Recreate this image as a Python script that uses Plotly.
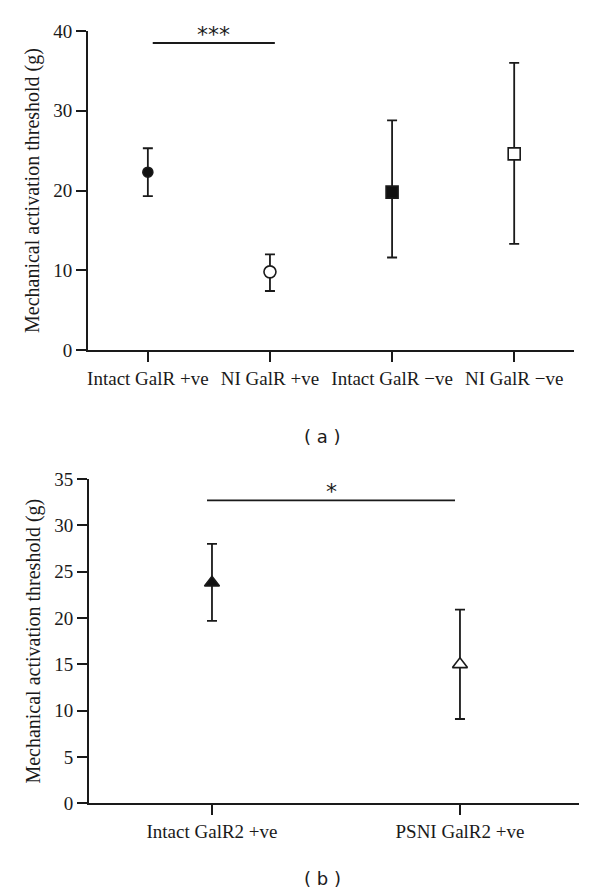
import plotly.graph_objects as go

# Panel (a)
cats_a = ["Intact GalR +ve", "NI GalR +ve", "Intact GalR \u2212ve", "NI GalR \u2212ve"]
mean_a = [22.3, 9.8, 19.8, 24.6]
err_up_a = [3.0, 2.2, 9.0, 11.4]
err_dn_a = [3.0, 2.4, 8.2, 11.3]
symbols_a = ["circle", "circle", "square", "square"]
fills_a = ["#111111", "white", "#111111", "white"]
sizes_a = [10, 12, 12, 12]
yticks_a = [0, 10, 20, 30, 40]
sig_a_x = [0.04, 1.04]
sig_a_y = 38.5
sig_a_text = "***"

# Panel (b)
cats_b = ["Intact GalR2 +ve", "PSNI GalR2 +ve"]
mean_b = [23.8, 15.0]
err_up_b = [4.2, 5.9]
err_dn_b = [4.1, 5.9]
symbols_b = ["triangle-up", "triangle-up"]
fills_b = ["#111111", "white"]
yticks_b = [0, 5, 10, 15, 20, 25, 30, 35]
sig_b_x = [-0.02, 0.98]
sig_b_y = 32.7
sig_b_text = "*"

INK = "#1a1a1a"
SERIF = "Liberation Serif"
SANS = "DejaVu Sans"

fig = go.Figure()

for i in range(len(cats_a)):
    fig.add_trace(go.Scatter(
        x=[i], y=[mean_a[i]], mode="markers", xaxis="x", yaxis="y",
        marker=dict(symbol=symbols_a[i], size=sizes_a[i], color=fills_a[i],
                    line=dict(color=INK, width=1.6)),
        error_y=dict(type="data", symmetric=False, array=[err_up_a[i]],
                     arrayminus=[err_dn_a[i]], color=INK, thickness=1.8, width=5),
        showlegend=False))

for i in range(len(cats_b)):
    fig.add_trace(go.Scatter(
        x=[i], y=[mean_b[i]], mode="markers", xaxis="x2", yaxis="y2",
        marker=dict(symbol=symbols_b[i], size=13, color=fills_b[i],
                    line=dict(color=INK, width=1.6)),
        error_y=dict(type="data", symmetric=False, array=[err_up_b[i]],
                     arrayminus=[err_dn_b[i]], color=INK, thickness=1.8, width=5),
        showlegend=False))

# significance bars
fig.add_trace(go.Scatter(x=sig_a_x, y=[sig_a_y, sig_a_y], mode="lines",
                         xaxis="x", yaxis="y", line=dict(color=INK, width=1.8),
                         showlegend=False, hoverinfo="skip"))
fig.add_trace(go.Scatter(x=sig_b_x, y=[sig_b_y, sig_b_y], mode="lines",
                         xaxis="x2", yaxis="y2", line=dict(color=INK, width=1.8),
                         showlegend=False, hoverinfo="skip"))

axis_common = dict(showline=True, linecolor=INK, linewidth=1.8, ticks="outside",
                   tickcolor=INK, tickwidth=1.8, ticklen=10, showgrid=False,
                   zeroline=False, automargin=False,
                   tickfont=dict(family=SERIF, size=19, color=INK))

fig.update_layout(
    width=600, height=892,
    margin=dict(l=0, r=0, t=0, b=0, autoexpand=False),
    paper_bgcolor="white", plot_bgcolor="white",
    xaxis=dict(domain=[0.1467, 0.9567], range=[-0.49, 3.49], tickmode="array",
               tickvals=list(range(len(cats_a))), ticktext=cats_a, anchor="y",
               **axis_common),
    yaxis=dict(domain=[0.6076, 0.9652], range=[0, 40], tickmode="array",
               tickvals=yticks_a, anchor="x",
               title=dict(text="Mechanical activation threshold (g)",
                          font=dict(family=SERIF, size=20, color=INK), standoff=8),
               **axis_common),
    xaxis2=dict(domain=[0.1483, 0.965], range=[-0.496, 1.48], tickmode="array",
                tickvals=list(range(len(cats_b))), ticktext=cats_b, anchor="y2",
                **axis_common),
    yaxis2=dict(domain=[0.0994, 0.463], range=[0, 35], tickmode="array",
                tickvals=yticks_b, anchor="x2",
                title=dict(text="Mechanical activation threshold (g)",
                           font=dict(family=SERIF, size=20, color=INK), standoff=8),
                **axis_common),
    annotations=[
        dict(text=sig_a_text, x=sum(sig_a_x) / 2, y=sig_a_y, xref="x", yref="y",
             yanchor="bottom", showarrow=False, yshift=-6,
             font=dict(family=SANS, size=22, color=INK)),
        dict(text=sig_b_text, x=sum(sig_b_x) / 2, y=sig_b_y, xref="x2", yref="y2",
             yanchor="bottom", showarrow=False, yshift=-6,
             font=dict(family=SANS, size=22, color=INK)),
        dict(text="( a )", x=322 / 600, y=1 - 436 / 892, xref="paper", yref="paper",
             xanchor="center", yanchor="middle", showarrow=False,
             font=dict(family=SANS, size=18, color=INK)),
        dict(text="( b )", x=322 / 600, y=1 - 878 / 892, xref="paper", yref="paper",
             xanchor="center", yanchor="middle", showarrow=False,
             font=dict(family=SANS, size=18, color=INK)),
    ],
)

fig.write_html("out.html", config={"displayModeBar": False},
               post_script="document.body.style.margin='0';")
